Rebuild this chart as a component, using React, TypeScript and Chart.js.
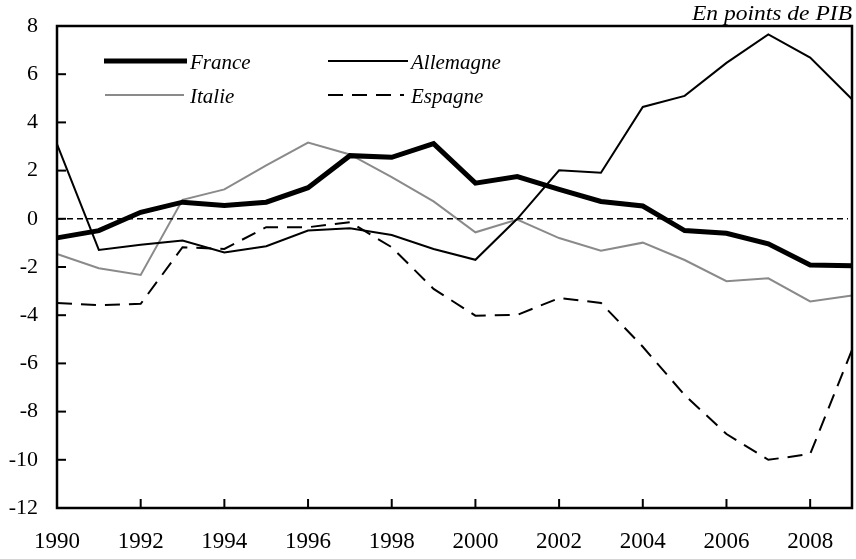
import React, { useEffect, useRef } from "react";
import { Chart, registerables } from "chart.js";

Chart.register(...registerables);

const years = ["1990","1991","1992","1993","1994","1995","1996","1997","1998","1999","2000","2001","2002","2003","2004","2005","2006","2007","2008","2009"];
const france = [-0.79,-0.49,0.27,0.69,0.55,0.69,1.29,2.62,2.55,3.12,1.48,1.75,1.22,0.72,0.53,-0.49,-0.6,-1.04,-1.92,-1.95];
const allemagne = [3.1,-1.29,-1.08,-0.9,-1.4,-1.14,-0.49,-0.39,-0.67,-1.25,-1.7,0.0,2.01,1.91,4.64,5.1,6.47,7.65,6.69,4.96];
const italie = [-1.46,-2.05,-2.33,0.79,1.22,2.22,3.16,2.67,1.73,0.72,-0.56,-0.03,-0.8,-1.32,-0.99,-1.71,-2.59,-2.47,-3.43,-3.18];
const espagne = [-3.49,-3.58,-3.53,-1.18,-1.25,-0.35,-0.35,-0.14,-1.18,-2.91,-4.02,-3.99,-3.29,-3.49,-5.31,-7.31,-8.93,-10.0,-9.76,-5.44];
const yTicks = [-12,-10,-8,-6,-4,-2,0,2,4,6,8];
const unitLabel = "En points de PIB";

const FONT = "'Liberation Serif', 'Times New Roman', serif";

const framePlugin = {
  id: "frame",
  afterDraw(chart: any) {
    const { ctx, chartArea } = chart;
    const { left, right, top, bottom } = chartArea;
    const xs = chart.scales.x;
    const ys = chart.scales.y;
    ctx.save();
    // zero line
    ctx.beginPath();
    ctx.setLineDash([6, 4]);
    ctx.lineWidth = 1.5;
    ctx.strokeStyle = "#000";
    const y0 = ys.getPixelForValue(0);
    ctx.moveTo(left, y0);
    ctx.lineTo(right - 4, y0);
    ctx.stroke();
    ctx.setLineDash([]);
    // frame
    ctx.lineWidth = 2.5;
    ctx.strokeRect(left, top, right - left, bottom - top);
    // y ticks inward
    ctx.lineWidth = 2;
    yTicks.forEach((v) => {
      const p = ys.getPixelForValue(v);
      ctx.beginPath();
      ctx.moveTo(left, p);
      ctx.lineTo(left + 9, p);
      ctx.stroke();
    });
    // x ticks inward
    years.forEach((y, i) => {
      if (parseInt(y, 10) % 2 !== 0 || i === 0) return;
      const p = xs.getPixelForValue(i);
      ctx.beginPath();
      ctx.moveTo(p, bottom);
      ctx.lineTo(p, bottom - 9);
      ctx.stroke();
    });
    // unit label (slightly widened like the reference)
    ctx.fillStyle = "#000";
    ctx.font = `italic 21px ${FONT}`;
    ctx.textAlign = "right";
    ctx.textBaseline = "alphabetic";
    ctx.save();
    ctx.translate(right, 20);
    ctx.scale(1.12, 1);
    ctx.fillText(unitLabel, 0, 0);
    ctx.restore();
    // legend
    const items = chart.data.datasets.map((d: any) => d);
    const pos = [
      { x1: 104, x2: 187, y: 61, tx: 190 },
      { x1: 328, x2: 408, y: 61, tx: 411 },
      { x1: 105, x2: 184, y: 95, tx: 190 },
      { x1: 328, x2: 404, y: 95, tx: 411 },
    ];
    items.forEach((d: any, i: number) => {
      const p = pos[i];
      ctx.beginPath();
      ctx.strokeStyle = d.borderColor;
      ctx.lineWidth = d.borderWidth;
      ctx.setLineDash(d.borderDash || []);
      ctx.moveTo(p.x1, p.y);
      ctx.lineTo(p.x2, p.y);
      ctx.stroke();
      ctx.setLineDash([]);
      ctx.fillStyle = "#000";
      ctx.textAlign = "left";
      ctx.textBaseline = "middle";
      ctx.font = `italic 21px ${FONT}`;
      ctx.fillText(d.label, p.tx, p.y + 2);
    });
    ctx.restore();
  },
};

export default function App() {
  const ref = useRef<HTMLCanvasElement>(null);
  useEffect(() => {
    let chart: any = null;
    let cancelled = false;
    const build = () => {
      if (cancelled || !ref.current) return;
      chart = new Chart(ref.current, {
        type: "line",
        data: {
          labels: years,
          datasets: [
            { label: "France", data: france, borderColor: "#000", borderWidth: 5, pointRadius: 0, tension: 0, fill: false },
            { label: "Allemagne", data: allemagne, borderColor: "#000", borderWidth: 2, pointRadius: 0, tension: 0, fill: false },
            { label: "Italie", data: italie, borderColor: "#8a8a8a", borderWidth: 2, pointRadius: 0, tension: 0, fill: false },
            { label: "Espagne", data: espagne, borderColor: "#000", borderWidth: 2, borderDash: [15, 9], pointRadius: 0, tension: 0, fill: false },
          ],
        },
        options: {
          responsive: false,
          animation: false,
          layout: { padding: { top: 26, right: 4, left: 0, bottom: 0 } },
          plugins: { legend: { display: false }, tooltip: { enabled: false }, title: { display: false } },
          scales: {
            x: {
              type: "category",
              offset: false,
              grid: { display: false, drawTicks: false },
              border: { display: false },
              afterFit: (s: any) => { s.height = 51; s.paddingLeft = 0; s.paddingRight = 0; },
              ticks: {
                autoSkip: false,
                maxRotation: 0,
                minRotation: 0,
                padding: 20,
                color: "#000",
                font: { family: FONT, size: 23 },
                callback: (_v: any, i: number) => (parseInt(years[i], 10) % 2 === 0 ? years[i] : ""),
              },
            },
            y: {
              min: -12,
              max: 8,
              grid: { display: false, drawTicks: false },
              border: { display: false },
              afterFit: (s: any) => { s.width = 57; s.paddingTop = 0; s.paddingBottom = 0; },
              afterBuildTicks: (s: any) => { s.ticks = yTicks.map((v) => ({ value: v })); },
              ticks: {
                stepSize: 2,
                padding: 19,
                color: "#000",
                font: { family: FONT, size: 22 },
              },
            },
          },
        },
        plugins: [framePlugin],
      });
    };
    const fonts: any = (document as any).fonts;
    if (fonts && fonts.load) {
      Promise.all([
        fonts.load(`22px 'Liberation Serif'`),
        fonts.load(`italic 21px 'Liberation Serif'`),
      ]).then(build, build);
    } else {
      build();
    }
    return () => {
      cancelled = true;
      if (chart) chart.destroy();
    };
  }, []);
  return (
    <div style={{ position: "fixed", left: 0, top: 0, width: 856, height: 559, background: "#fff" }}>
      <canvas ref={ref} width={856} height={559} style={{ width: 856, height: 559, display: "block" }} />
    </div>
  );
}
